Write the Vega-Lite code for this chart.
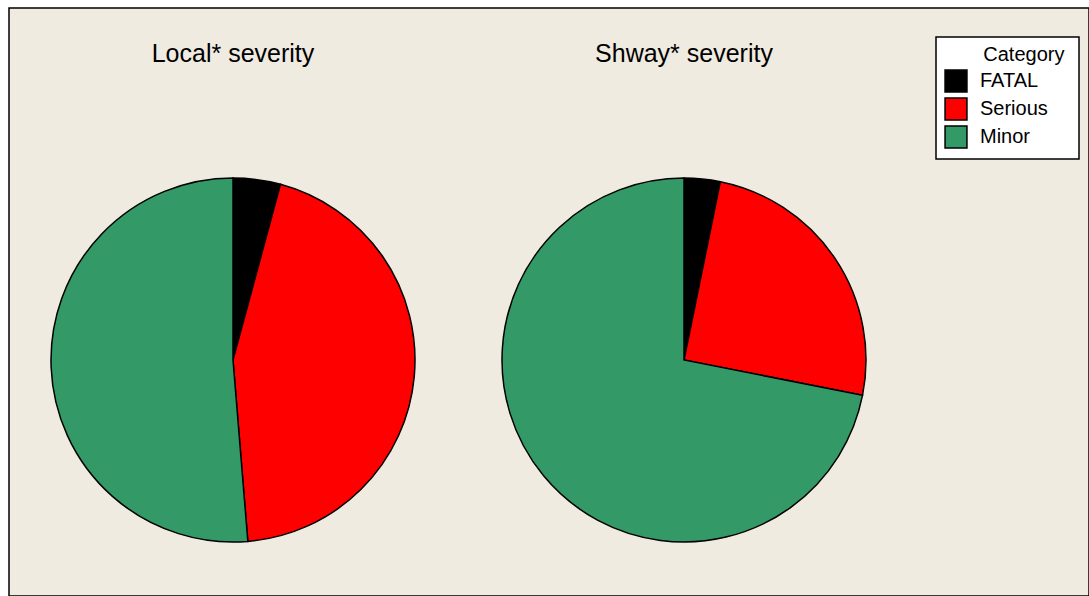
{
  "$schema": "https://vega.github.io/schema/vega-lite/v6.json",
  "width": 1080,
  "height": 588,
  "autosize": {"type": "none"},
  "padding": {"left": 9, "top": 8, "right": 0, "bottom": 0},
  "background": "#ffffff",
  "config": {
    "view": {"fill": "#F0EBE1", "stroke": "#000000", "strokeWidth": 1.5},
    "font": "Liberation Sans"
  },
  "datasets": {
    "slices": [
      {"pie": "Local", "category": "FATAL", "order": 1, "pct": 4.2},
      {"pie": "Local", "category": "Serious", "order": 2, "pct": 44.5},
      {"pie": "Local", "category": "Minor", "order": 3, "pct": 51.3},
      {"pie": "Shway", "category": "FATAL", "order": 1, "pct": 3.2},
      {"pie": "Shway", "category": "Serious", "order": 2, "pct": 24.9},
      {"pie": "Shway", "category": "Minor", "order": 3, "pct": 71.9}
    ],
    "titles": [
      {"pie": "Local", "title": "Local* severity"},
      {"pie": "Shway", "title": "Shway* severity"}
    ]
  },
  "layer": [
    {
      "data": {"name": "slices"},
      "transform": [
        {"stack": "pct", "groupby": ["pie"], "sort": [{"field": "order"}], "as": ["p0", "p1"]}
      ],
      "mark": {"type": "arc", "radius": 182, "stroke": "#000000", "strokeWidth": 1.5, "yOffset": 58},
      "encoding": {
        "x": {"field": "pie", "type": "nominal", "scale": {"type": "point", "padding": 0, "domain": ["Local", "Shway"], "range": [224, 675]}, "axis": null},
        "theta": {"field": "p0", "type": "quantitative", "scale": {"domain": [0, 100]}},
        "theta2": {"field": "p1"},
        "color": {
          "field": "category",
          "type": "nominal",
          "scale": {"domain": ["FATAL", "Serious", "Minor"], "range": ["#000000", "#FF0000", "#339966"]},
          "legend": {
            "title": "Category\u00a0\u200b",
            "orient": "none",
            "legendX": 927,
            "legendY": 29,
            "fillColor": "#ffffff",
            "strokeColor": "#000000",
            "padding": 8,
            "symbolType": "square",
            "symbolSize": 480,
            "symbolStrokeColor": "#000000",
            "symbolStrokeWidth": 1.5,
            "symbolOpacity": 1,
            "labelFont": "Liberation Sans",
            "labelFontSize": 20,
            "labelColor": "#000000",
            "labelOffset": 12,
            "labelExpr": "datum.label + '\u00a0\u00a0\u00a0\u00a0\u200b'",
            "rowPadding": 0,
            "titleFont": "Liberation Sans",
            "titleFontSize": 20,
            "titleFontWeight": "normal",
            "titleColor": "#000000",
            "titleAnchor": "end",
            "titlePadding": 4,
            "encode": {"legend": {"update": {"strokeWidth": {"value": 1.5}}}}
          }
        }
      }
    },
    {
      "data": {"name": "titles"},
      "mark": {"type": "text", "fontSize": 25, "dy": -248, "color": "#000000", "font": "Liberation Sans"},
      "encoding": {
        "x": {"field": "pie", "type": "nominal"},
        "text": {"field": "title"}
      }
    }
  ]
}
